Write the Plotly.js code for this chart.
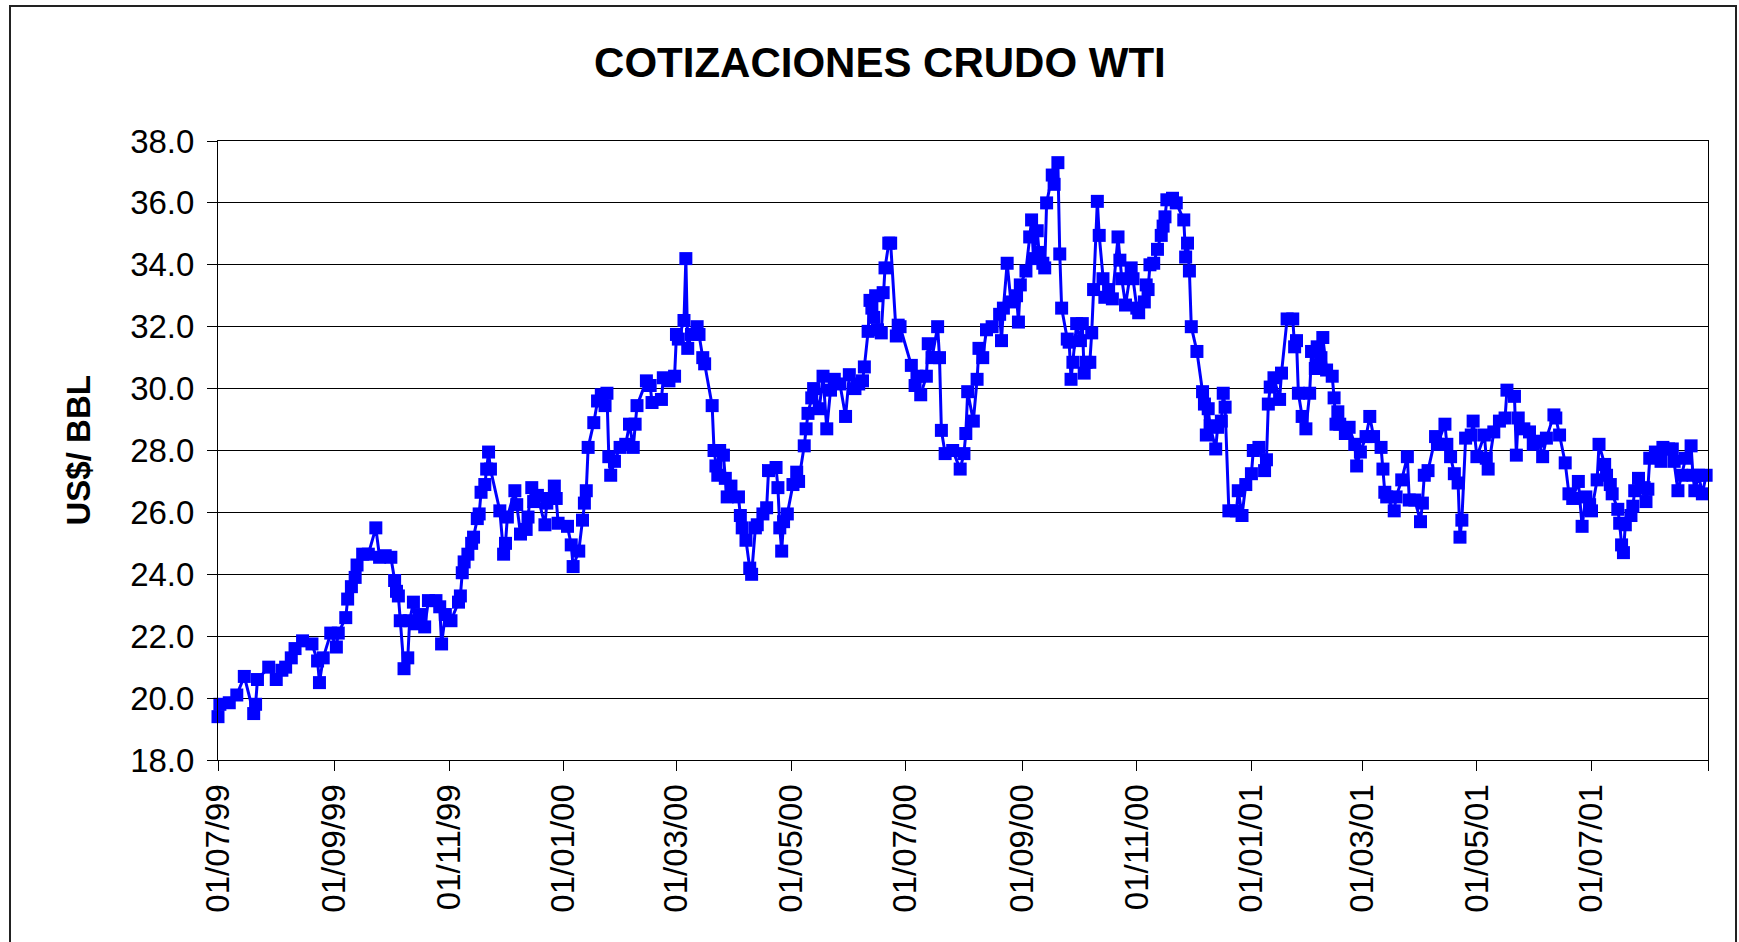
<!DOCTYPE html>
<html>
<head>
<meta charset="utf-8">
<script src="https://cdn.plot.ly/plotly-3.0.1.min.js"></script>
<style>
  html, body { margin: 0; padding: 0; background: #ffffff; }
  #chart { position: absolute; left: 0; top: 0; width: 1739px; height: 942px; }
  #frame { position: absolute; left: 9px; top: 5px; width: 1724px; height: 1000px;
           border: 2px solid #222; pointer-events: none; }
</style>
</head>
<body>
<div id="chart"></div>
<div id="frame"></div>
<script>
// ---- Data ----
const dates = [
  '1999-07-01','1999-07-02','1999-07-07','1999-07-11','1999-07-15','1999-07-20','1999-07-21','1999-07-22','1999-07-28',
  '1999-08-01','1999-08-04','1999-08-06','1999-08-09','1999-08-11','1999-08-15','1999-08-20','1999-08-23','1999-08-24','1999-08-26','1999-08-30',
  '1999-09-02','1999-09-03','1999-09-07','1999-09-08','1999-09-10','1999-09-12','1999-09-13','1999-09-16','1999-09-19','1999-09-23','1999-09-25','1999-09-28',
  '1999-10-01','1999-10-03','1999-10-04','1999-10-05','1999-10-06','1999-10-08','1999-10-10','1999-10-11','1999-10-13','1999-10-14','1999-10-17','1999-10-19','1999-10-21','1999-10-25','1999-10-27','1999-10-28','1999-10-30',
  '1999-11-02','1999-11-06','1999-11-07','1999-11-08','1999-11-09','1999-11-11','1999-11-13','1999-11-14','1999-11-16','1999-11-17','1999-11-18','1999-11-20','1999-11-21','1999-11-22','1999-11-23','1999-11-28','1999-11-30',
  '1999-12-01','1999-12-02','1999-12-06','1999-12-07','1999-12-09','1999-12-12','1999-12-13','1999-12-15','1999-12-16','1999-12-18','1999-12-22','1999-12-23','1999-12-24','1999-12-27','1999-12-28','1999-12-29',
  '2000-01-03','2000-01-05','2000-01-06','2000-01-09','2000-01-11','2000-01-12','2000-01-13','2000-01-14','2000-01-17','2000-01-19','2000-01-21','2000-01-23','2000-01-24','2000-01-25','2000-01-26','2000-01-28','2000-01-31',
  '2000-02-03','2000-02-05','2000-02-07','2000-02-08','2000-02-09','2000-02-14','2000-02-16','2000-02-17','2000-02-22','2000-02-23','2000-02-26','2000-02-29',
  '2000-03-01','2000-03-02','2000-03-05','2000-03-06','2000-03-07','2000-03-09','2000-03-12','2000-03-13','2000-03-15','2000-03-16','2000-03-20','2000-03-21','2000-03-22','2000-03-23','2000-03-24','2000-03-26','2000-03-27','2000-03-28','2000-03-30',
  '2000-04-03','2000-04-04','2000-04-05','2000-04-07','2000-04-09','2000-04-10','2000-04-12','2000-04-13','2000-04-16','2000-04-18','2000-04-19','2000-04-23','2000-04-24','2000-04-25','2000-04-26','2000-04-27','2000-04-29',
  '2000-05-02','2000-05-04','2000-05-05','2000-05-08','2000-05-09','2000-05-10','2000-05-12','2000-05-13','2000-05-16','2000-05-18','2000-05-20','2000-05-22','2000-05-24','2000-05-27','2000-05-30',
  '2000-06-01','2000-06-04','2000-06-06','2000-06-08','2000-06-09','2000-06-11','2000-06-12','2000-06-13','2000-06-14','2000-06-15','2000-06-16','2000-06-18','2000-06-19','2000-06-20','2000-06-22','2000-06-23','2000-06-26','2000-06-27','2000-06-28',
  '2000-07-04','2000-07-06','2000-07-07','2000-07-09','2000-07-12','2000-07-13','2000-07-15','2000-07-18','2000-07-19','2000-07-20','2000-07-22','2000-07-26','2000-07-30',
  '2000-08-01','2000-08-02','2000-08-03','2000-08-06','2000-08-08','2000-08-09','2000-08-11','2000-08-13','2000-08-16','2000-08-20','2000-08-21','2000-08-22','2000-08-24','2000-08-26','2000-08-29','2000-08-30','2000-08-31',
  '2000-09-03','2000-09-05','2000-09-06','2000-09-07','2000-09-09','2000-09-10','2000-09-12','2000-09-13','2000-09-14','2000-09-17','2000-09-18','2000-09-20','2000-09-21','2000-09-22','2000-09-25','2000-09-26','2000-09-27','2000-09-28','2000-09-30',
  '2000-10-02','2000-10-03','2000-10-04','2000-10-05','2000-10-07','2000-10-08','2000-10-09','2000-10-11','2000-10-12','2000-10-14','2000-10-15','2000-10-17','2000-10-19','2000-10-22','2000-10-23','2000-10-24','2000-10-26','2000-10-29','2000-10-30',
  '2000-11-01','2000-11-02','2000-11-05','2000-11-06','2000-11-07','2000-11-08','2000-11-10','2000-11-12','2000-11-14','2000-11-15','2000-11-16','2000-11-17','2000-11-20','2000-11-22','2000-11-26','2000-11-27','2000-11-28','2000-11-29','2000-11-30',
  '2000-12-03','2000-12-06','2000-12-07','2000-12-08','2000-12-09','2000-12-10','2000-12-13','2000-12-14','2000-12-16','2000-12-17','2000-12-18','2000-12-20','2000-12-24','2000-12-25','2000-12-27','2000-12-29',
  '2001-01-01','2001-01-02','2001-01-05','2001-01-08','2001-01-09','2001-01-10','2001-01-11','2001-01-13','2001-01-16','2001-01-17','2001-01-20','2001-01-23','2001-01-24','2001-01-25','2001-01-26','2001-01-28','2001-01-30',
  '2001-02-01','2001-02-02','2001-02-04','2001-02-05','2001-02-07','2001-02-08','2001-02-10','2001-02-13','2001-02-14','2001-02-15','2001-02-16','2001-02-17','2001-02-20','2001-02-22','2001-02-25','2001-02-26','2001-02-28',
  '2001-03-03','2001-03-05','2001-03-07','2001-03-11','2001-03-12','2001-03-13','2001-03-14','2001-03-18','2001-03-19','2001-03-22','2001-03-25','2001-03-26','2001-03-29',
  '2001-04-01','2001-04-02','2001-04-03','2001-04-05','2001-04-09','2001-04-10','2001-04-14','2001-04-15','2001-04-17','2001-04-19','2001-04-21','2001-04-22','2001-04-23','2001-04-25','2001-04-28','2001-04-29',
  '2001-05-01','2001-05-05','2001-05-06','2001-05-07','2001-05-10','2001-05-13','2001-05-16','2001-05-17','2001-05-21','2001-05-22','2001-05-23','2001-05-26','2001-05-29','2001-05-31',
  '2001-06-03','2001-06-05','2001-06-07','2001-06-11','2001-06-12','2001-06-14','2001-06-17','2001-06-19','2001-06-21','2001-06-24','2001-06-26','2001-06-28','2001-06-30',
  '2001-07-01','2001-07-04','2001-07-05','2001-07-08','2001-07-09','2001-07-11','2001-07-12','2001-07-15','2001-07-16','2001-07-17','2001-07-18','2001-07-19','2001-07-22','2001-07-23','2001-07-24','2001-07-26','2001-07-29','2001-07-30','2001-07-31',
  '2001-08-01','2001-08-04','2001-08-07','2001-08-08','2001-08-11','2001-08-13','2001-08-14','2001-08-16','2001-08-18','2001-08-20','2001-08-23','2001-08-24','2001-08-25','2001-08-27','2001-08-29','2001-08-31'
];

const prices = [
  19.4, 19.8, 19.85, 20.1, 20.7, 19.5, 19.8, 20.6, 21.0,
  20.6, 20.9, 21.0, 21.3, 21.6, 21.85, 21.75, 21.2, 20.5, 21.3, 22.1,
  21.65, 22.1, 22.6, 23.2, 23.6, 23.9, 24.3, 24.65, 24.65, 25.5, 24.55, 24.6,
  24.55, 23.8, 23.45, 23.3, 22.5, 20.95, 21.3, 22.5, 23.1, 22.4, 22.7, 22.3, 23.15, 23.15, 22.95, 21.75, 22.7,
  22.5, 23.1, 23.3, 24.05, 24.4, 24.65, 25.0, 25.2, 25.8, 25.95, 26.65, 26.9, 27.4, 27.95, 27.4, 26.05, 24.65,
  25.0, 25.85, 26.7, 26.25, 25.3, 25.45, 25.85, 26.8, 26.35, 26.55, 25.6, 26.3, 26.45, 26.85, 26.45, 25.65,
  25.55, 24.95, 24.25, 24.75, 25.75, 26.3, 26.7, 28.1, 28.9, 29.6, 29.8, 29.45, 29.85, 27.8, 27.2, 27.65, 28.1,
  28.2, 28.85, 28.1, 28.85, 29.45, 30.25, 30.1, 29.55, 29.65, 30.35, 30.25, 30.4,
  31.75, 31.6, 32.2, 34.2, 31.3, 31.75, 32.0, 31.75, 31.0, 30.8, 29.45, 28.0, 27.5, 27.2, 28.0, 27.85, 27.1, 26.5, 26.85,
  26.5, 25.9, 25.5, 25.1, 24.2, 24.0, 25.5, 25.6, 25.95, 26.15, 27.35, 27.45, 26.8, 25.5, 24.75, 25.7, 25.95,
  26.9, 27.3, 27.0, 28.15, 28.7, 29.2, 29.7, 30.0, 29.35, 30.4, 28.7, 29.95, 30.3, 30.15, 29.1,
  30.45, 30.0, 30.15, 30.25, 30.7, 31.85, 32.85, 32.6, 32.3, 33.0, 31.9, 31.8, 33.1, 33.9, 34.7, 34.7, 31.7, 32.05, 32.0,
  30.75, 30.1, 30.4, 29.8, 30.4, 31.45, 31.0, 32.0, 31.0, 28.65, 27.9, 28.0, 27.4,
  27.9, 28.55, 29.9, 28.95, 30.3, 31.3, 31.0, 31.9, 32.0, 32.4, 31.55, 32.6, 34.05, 32.8, 33.0, 32.15, 33.35,
  33.8, 34.9, 35.45, 34.2, 35.1, 34.4, 34.05, 33.9, 36.0, 36.9, 36.6, 37.3, 34.35, 32.6, 31.6, 31.5, 30.3, 30.85, 32.1,
  31.55, 32.1, 30.5, 30.85, 30.85, 31.8, 33.2, 36.05, 34.95, 33.55, 32.95, 33.2, 32.9, 34.9, 34.15, 33.55, 32.7, 33.9, 33.55,
  32.6, 32.45, 32.8, 33.35, 33.2, 34.0, 34.05, 34.5, 34.95, 35.25, 35.55, 36.1, 36.15, 36.0, 35.45, 34.25, 34.7, 33.8, 32.0,
  31.2, 29.9, 29.5, 28.5, 29.35, 28.8, 28.05, 28.75, 28.95, 29.85, 29.4, 26.05, 26.05, 26.7, 25.9, 26.9,
  27.25, 28.0, 28.1, 27.35, 27.7, 29.5, 30.05, 30.35, 29.65, 30.5, 32.25, 32.25, 31.35, 31.55, 29.85, 29.1, 28.7,
  29.85, 31.2, 30.65, 31.35, 31.0, 31.65, 30.6, 30.4, 29.7, 28.85, 29.25, 28.85, 28.55, 28.75, 28.2, 27.5, 27.95,
  28.45, 29.1, 28.45, 28.1, 27.4, 26.65, 26.5, 26.05, 26.5, 27.05, 27.8, 26.4, 26.4,
  25.7, 26.3, 27.2, 27.35, 28.45, 28.2, 28.85, 28.2, 27.8, 27.25, 26.95, 25.2, 25.75, 28.4, 28.5, 28.95,
  27.8, 28.5, 27.75, 27.4, 28.6, 28.95, 29.05, 29.95, 29.75, 27.85, 29.05, 28.7, 28.6, 28.2,
  28.3, 27.8, 28.4, 29.15, 29.05, 28.5, 27.6, 26.6, 26.45, 27.0, 25.55, 26.5, 26.25,
  26.05, 27.05, 28.2, 27.55, 27.2, 26.9, 26.6, 26.1, 25.65, 24.95, 24.7, 25.6, 25.9, 26.2, 26.7, 27.1, 26.8, 26.35, 26.75,
  27.75, 27.95, 27.65, 28.1, 28.05, 28.05, 27.65, 26.7, 27.2, 27.75, 28.15, 27.2, 26.7, 27.2, 26.6, 27.2
];

const xTickVals = ['1999-07-01','1999-09-01','1999-11-01','2000-01-01','2000-03-01','2000-05-01',
                   '2000-07-01','2000-09-01','2000-11-01','2001-01-01','2001-03-01','2001-05-01',
                   '2001-07-01','2001-09-01'];
const xTickText = ['01/07/99','01/09/99','01/11/99','01/01/00','01/03/00','01/05/00',
                   '01/07/00','01/09/00','01/11/00','01/01/01','01/03/01','01/05/01',
                   '01/07/01',''];

const chartTitle = 'COTIZACIONES CRUDO WTI';
const yTitle = 'US$/ BBL';

// ---- Chart ----
const FONT = 'Liberation Sans, Arial, Helvetica, sans-serif';

const trace = {
  x: dates,
  y: prices,
  type: 'scatter',
  mode: 'lines+markers',
  line: { color: '#0000FF', width: 3 },
  marker: { symbol: 'square', size: 13, color: '#0000FF', line: { width: 0 } },
  cliponaxis: false,
  hoverinfo: 'x+y'
};

const layout = {
  width: 1739,
  height: 942,
  margin: { l: 218, r: 31, t: 141, b: 182, pad: 0 },
  paper_bgcolor: '#ffffff',
  plot_bgcolor: '#ffffff',
  showlegend: false,
  font: { family: FONT, color: '#000000', size: 33 },
  title: {
    text: '<b>' + chartTitle + '</b>',
    font: { family: FONT, size: 42, color: '#000000' },
    x: 0.506, xanchor: 'center', xref: 'container',
    y: 0.934, yanchor: 'middle', yref: 'container'
  },
  xaxis: {
    type: 'date',
    range: ['1999-07-01', '2001-09-01'],
    tickmode: 'array',
    tickvals: xTickVals,
    ticktext: xTickText,
    tickangle: -90,
    ticks: 'outside',
    ticklen: 10,
    tickwidth: 1,
    tickcolor: '#000000',
    tickfont: { family: FONT, size: 33, color: '#000000' },
    showgrid: false,
    zeroline: false,
    showline: true,
    linecolor: '#000000',
    linewidth: 1,
    mirror: true
  },
  yaxis: {
    range: [18, 38],
    tick0: 18,
    dtick: 2,
    tickformat: '.1f',
    ticks: 'outside',
    ticklen: 10,
    tickwidth: 1,
    tickcolor: '#000000',
    tickfont: { family: FONT, size: 33, color: '#000000' },
    ticklabelstandoff: 6,
    showgrid: true,
    gridcolor: '#000000',
    gridwidth: 1,
    zeroline: false,
    showline: true,
    linecolor: '#000000',
    linewidth: 1,
    mirror: true
  },
  annotations: [{
    text: '<b>' + yTitle + '</b>',
    xref: 'paper', yref: 'paper',
    x: -0.0933, y: 0.5,
    xanchor: 'center', yanchor: 'middle',
    textangle: -90,
    showarrow: false,
    font: { family: FONT, size: 33, color: '#000000' }
  }]
};

Plotly.newPlot('chart', [trace], layout, { displayModeBar: false, staticPlot: true });
</script>
</body>
</html>
